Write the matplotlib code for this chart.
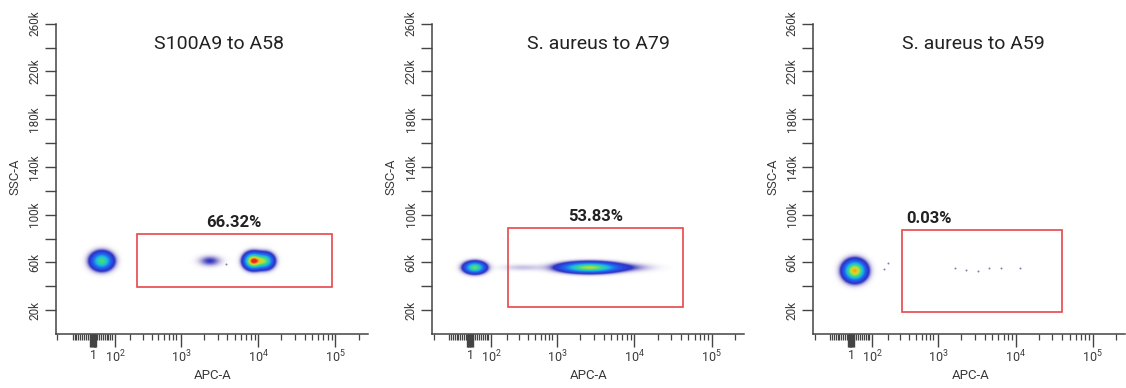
#!/usr/bin/env python3
"""Three flow cytometry pseudocolor panels (APC-A vs SSC-A) with gates."""

import matplotlib

matplotlib.use("Agg")
import matplotlib.pyplot as plt
import numpy as np
from matplotlib.colors import LinearSegmentedColormap
from matplotlib.patches import Rectangle

# ---- data ---------------------------------------------------------------
# x values are in display decades of the logicle APC-A axis (10^3 -> 3, ...)
PANEL_TITLES = ["S100A9 to A58", "S. aureus to A79", "S. aureus to A59"]
GATE_LABELS = ["66.32%", "53.83%", "0.03%"]
GATE_U_LEFT = [2.43, 2.36, 2.53]
GATE_U_RIGHT = [4.95, 4.63, 4.60]
GATE_SSC_BOTTOM = [39.6, 22.6, 18.2]
GATE_SSC_TOP = [83.5, 88.5, 87.1]
GATE_LABEL_HA = ["center", "center", "left"]

# cell populations: panel, APC centre, SSC centre (k), spreads, peak density
POP_PANEL = [0, 0, 0, 0, 1, 1, 1, 1, 2]
POP_U = [1.974, 3.375, 3.935, 4.090, 1.935, 2.55, 3.42, 3.95, 1.922]
POP_SSC = [61.0, 61.0, 61.0, 61.0, 55.5, 55.5, 55.5, 55.5, 52.8]
POP_SPREAD_U = [0.088, 0.10, 0.07, 0.07, 0.085, 0.20, 0.23, 0.22, 0.088]
POP_SPREAD_SSC = [4.6, 3.0, 4.0, 4.0, 3.0, 2.0, 2.7, 2.4, 5.2]
POP_PEAK = [0.62, 0.10, 1.0, 0.62, 0.66, 0.04, 0.74, 0.06, 0.9]

# isolated events
EVENT_PANEL = [2, 2, 2, 2, 2, 2, 2, 2, 0]
EVENT_U = [2.30, 2.35, 3.22, 3.36, 3.51, 3.66, 3.81, 4.06, 3.59]
EVENT_SSC = [54.1, 59.7, 55.0, 53.5, 53.0, 55.0, 55.0, 55.5, 59.0]

X_TICK_POS = [1.875, 2.146, 3.0, 4.0, 5.0]
X_TICK_LABELS = ["1", r"$\mathregular{10^2}$", r"$\mathregular{10^3}$",
                 r"$\mathregular{10^4}$", r"$\mathregular{10^5}$"]
Y_TICK_POS = [20, 60, 100, 140, 180, 220, 260]
Y_TICK_LABELS = ["20k", "60k", "100k", "140k", "180k", "220k", "260k"]
Y_MINOR_POS = [40, 80, 120, 160, 200, 240]

U_MIN, U_MAX = 1.383, 5.42
SSC_MIN, SSC_MAX = 0.0, 260.0

# ---- style --------------------------------------------------------------
GATE_COLOR = "#e8474a"
AXIS_COLOR = "#444444"
TEXT_COLOR = "#222222"
LABEL_COLOR = "#3a3a3a"
PSEUDO_CMAP = LinearSegmentedColormap.from_list(
    "flow",
    [
        (0.0, "#3a1f8c"),
        (0.12, "#2a36d0"),
        (0.30, "#1f70f0"),
        (0.45, "#1cbce0"),
        (0.60, "#3ad88a"),
        (0.75, "#b8e23a"),
        (0.87, "#f2c31f"),
        (1.0, "#e8281e"),
    ],
)

plt.rcParams["font.family"] = ["Roboto", "DejaVu Sans"]
plt.rcParams["mathtext.fontset"] = "custom"
plt.rcParams["mathtext.rm"] = "Roboto"

AX_LEFTS = [0.0497, 0.3839, 0.7223]
AX_BOTTOM = 0.139
AX_W = 0.277
AX_H = 0.800


def density_rgba(panel_idx):
    u = np.linspace(U_MIN, U_MAX, 640)
    s = np.linspace(SSC_MIN, SSC_MAX, 640)
    uu, ss = np.meshgrid(u, s)
    dens = np.zeros_like(uu)
    for p, cu, cs, su, sy, w in zip(POP_PANEL, POP_U, POP_SSC, POP_SPREAD_U, POP_SPREAD_SSC, POP_PEAK):
        if p != panel_idx:
            continue
        dens += w * np.exp(-0.5 * ((uu - cu) / su) ** 2 - 0.5 * ((ss - cs) / sy) ** 2)
    rgba = PSEUDO_CMAP(np.clip(dens, 0, 1))
    rgba[..., 3] = np.clip(dens / 0.10, 0, 1) ** 1.4
    return rgba


def style_axes(ax):
    for side in ("top", "right"):
        ax.spines[side].set_visible(False)
    for side in ("left", "bottom"):
        ax.spines[side].set_color(AXIS_COLOR)
        ax.spines[side].set_linewidth(1.1)

    ax.set_xlim(U_MIN, U_MAX)
    ax.set_ylim(SSC_MIN, SSC_MAX)

    # x axis: labelled decades, thick block around zero, log minors
    block = list(np.linspace(1.83, 1.905, 8))
    ax.set_xticks(X_TICK_POS + block, X_TICK_LABELS + [""] * len(block))
    minor = [1.40] + list(np.linspace(1.60, 2.11, 22))
    low_fracs = [0.235, 0.426, 0.561, 0.66, 0.75, 0.816, 0.876, 0.925]
    minor += [2.146 + f * 0.854 for f in low_fracs]
    for dec in (3, 4):
        minor += [dec + np.log10(k) for k in range(2, 10)]
    minor.append(5 + np.log10(2))
    ax.set_xticks(minor, minor=True)
    ax.tick_params(axis="x", which="major", length=9, width=1.0, color=AXIS_COLOR,
                   labelsize=9, labelcolor=LABEL_COLOR, pad=1.5)
    ax.tick_params(axis="x", which="minor", length=4.5, width=0.9, color=AXIS_COLOR)

    ax.set_yticks(Y_TICK_POS, Y_TICK_LABELS)
    ax.set_yticks(Y_MINOR_POS, minor=True)
    ax.tick_params(axis="y", which="both", length=8, width=1.0, color=AXIS_COLOR,
                   labelsize=8.5, labelcolor=LABEL_COLOR, pad=2.5)
    for lbl in ax.get_yticklabels():
        lbl.set_rotation(90)
        lbl.set_va("center")

    ax.text(0.503, -0.132, "APC-A", transform=ax.transAxes, ha="center", va="center",
            fontsize=9.5, color=LABEL_COLOR)
    ax.text(-0.131, 0.506, "SSC-A", transform=ax.transAxes, ha="center", va="center",
            rotation=90, fontsize=9.5, color=LABEL_COLOR)


def main():
    fig = plt.figure(figsize=(11.26, 3.88), dpi=100)
    fig.patch.set_facecolor("white")

    title_x = [0.522, 0.534, 0.513]
    for i in range(3):
        ax = fig.add_axes([AX_LEFTS[i], AX_BOTTOM, AX_W, AX_H])
        style_axes(ax)

        ax.imshow(density_rgba(i), extent=[U_MIN, U_MAX, SSC_MIN, SSC_MAX], origin="lower",
                  aspect="auto", interpolation="bilinear", zorder=2)
        ev_u = [u for p, u in zip(EVENT_PANEL, EVENT_U) if p == i]
        ev_s = [s for p, s in zip(EVENT_PANEL, EVENT_SSC) if p == i]
        if ev_u:
            ax.scatter(ev_u, ev_s, s=2.0, color="#7a80a8", linewidths=0, zorder=3)

        x0, x1 = GATE_U_LEFT[i], GATE_U_RIGHT[i]
        y0, y1 = GATE_SSC_BOTTOM[i], GATE_SSC_TOP[i]
        ax.add_patch(Rectangle((x0, y0), x1 - x0, y1 - y0, fill=False,
                               edgecolor=GATE_COLOR, linewidth=1.2, zorder=4))
        if GATE_LABEL_HA[i] == "center":
            lx = (x0 + x1) / 2.0
        else:
            lx = x0 + 0.05
        ax.text(lx, y1 + 9.8, GATE_LABELS[i], ha=GATE_LABEL_HA[i], va="center",
                fontsize=12, fontweight="bold", color=TEXT_COLOR, zorder=5)

        ax.text(title_x[i], 0.934, PANEL_TITLES[i], transform=ax.transAxes,
                ha="center", va="center", fontsize=14, color=TEXT_COLOR)

    fig.savefig("out.png", dpi=100, facecolor="white")
    plt.close(fig)


if __name__ == "__main__":
    main()
